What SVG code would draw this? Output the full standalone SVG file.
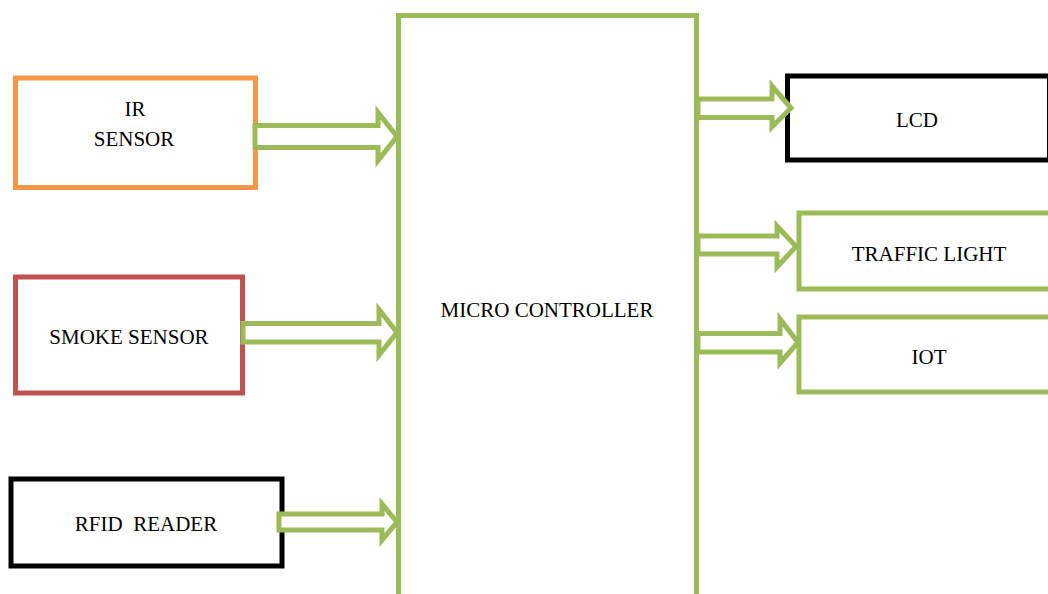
<svg xmlns="http://www.w3.org/2000/svg" width="1048" height="594" viewBox="0 0 1048 594">
  <style>
    .box { fill: #ffffff; stroke-width: 5; }
    .lbl { font-family: "Liberation Serif", "Times New Roman", serif; font-size: 21px; fill: #000000; text-anchor: middle; }
    .arrow { fill: #ffffff; stroke: #9bbb59; stroke-width: 5; stroke-linejoin: miter; }
  </style>
  <rect width="1048" height="594" fill="#ffffff"/>

  <g id="micro-controller">
    <rect class="box" x="398.5" y="15.5" width="298" height="600" stroke="#9bbb59"/>
    <text class="lbl" x="547" y="317">MICRO CONTROLLER</text>
  </g>

  <g id="ir-sensor">
    <rect class="box" x="15.5" y="78" width="240" height="109.5" stroke="#f79646"/>
    <text class="lbl" x="135" y="116">IR</text>
    <text class="lbl" x="134" y="146">SENSOR</text>
  </g>

  <g id="smoke-sensor">
    <rect class="box" x="15.5" y="277" width="227" height="116" stroke="#c0504d"/>
    <text class="lbl" x="129" y="344">SMOKE SENSOR</text>
  </g>

  <g id="rfid-reader">
    <rect class="box" x="11" y="479" width="271" height="87" stroke="#000000"/>
    <text class="lbl" x="146" y="531" xml:space="preserve">RFID  READER</text>
  </g>

  <g id="lcd">
    <rect class="box" x="787.5" y="76" width="262" height="84" stroke="#000000"/>
    <text class="lbl" x="917" y="127">LCD</text>
  </g>

  <g id="traffic-light">
    <rect class="box" x="799" y="213" width="260" height="76" stroke="#9bbb59"/>
    <text class="lbl" x="929" y="261">TRAFFIC LIGHT</text>
  </g>

  <g id="iot">
    <rect class="box" x="799" y="317" width="260" height="75" stroke="#9bbb59"/>
    <text class="lbl" x="929" y="364">IOT</text>
  </g>

  <g id="connectors">
    <!-- block arrows into the controller -->
    <polygon class="arrow" points="255,125.5 378,125.5 378,112.5 397,136.5 378,160.5 378,147.5 255,147.5"/>
    <polygon class="arrow" points="243,323.5 379,323.5 379,309.5 397,332.5 379,355 379,342 243,342"/>
    <polygon class="arrow" points="279,514 382,514 382,504 397,522 382,540 382,530 279,530"/>
    <!-- block arrows out of the controller -->
    <polygon class="arrow" points="698,99 772,99 772,86 791,108 772,127 772,117.5 698,117.5"/>
    <polygon class="arrow" points="698,236 777,236 777,226 796,246.5 777,267 777,254 698,254"/>
    <polygon class="arrow" points="698,333.5 780,333.5 780,319 798,342.5 780,363 780,352 698,352"/>
  </g>
</svg>
